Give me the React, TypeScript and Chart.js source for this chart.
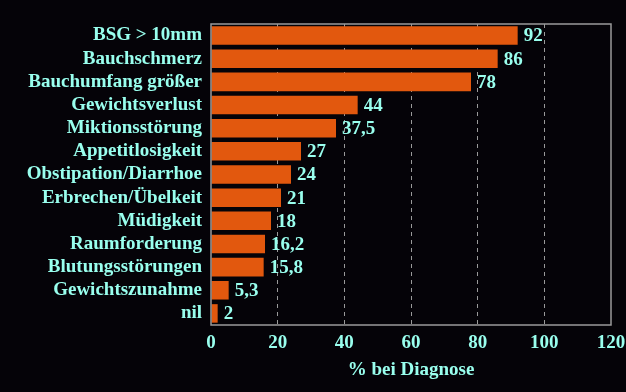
import React, { useEffect, useRef } from "react";
import { Chart, registerables } from "chart.js";

Chart.register(...registerables);

const categories = [
  "BSG > 10mm",
  "Bauchschmerz",
  "Bauchumfang größer",
  "Gewichtsverlust",
  "Miktionsstörung",
  "Appetitlosigkeit",
  "Obstipation/Diarrhoe",
  "Erbrechen/Übelkeit",
  "Müdigkeit",
  "Raumforderung",
  "Blutungsstörungen",
  "Gewichtszunahme",
  "nil",
];
const values = [92, 86, 78, 44, 37.5, 27, 24, 21, 18, 16.2, 15.8, 5.3, 2];
const xTicks = [0, 20, 40, 60, 80, 100, 120];
const axisTitle = "% bei Diagnose";

const TEXT = "#99FFEE";
const BAR = "#E2580E";
const BG = "#050308";
const GRID = "#9a9a9a";
const FONT = "'Liberation Serif', 'Times New Roman', serif";

export default function App() {
  const ref = useRef<HTMLCanvasElement | null>(null);
  useEffect(() => {
    document.body.style.margin = "0";
    document.body.style.background = BG;
    const canvas = ref.current!;
    const valueLabels = {
      id: "valueLabels",
      afterDatasetsDraw(chart: any) {
        const ctx = chart.ctx;
        const meta = chart.getDatasetMeta(0);
        ctx.save();
        ctx.fillStyle = TEXT;
        ctx.font = `bold 19px ${FONT}`;
        ctx.textBaseline = "middle";
        ctx.textAlign = "left";
        meta.data.forEach((el: any, i: number) => {
          const txt = String(values[i]).replace(".", ",");
          ctx.fillText(txt, el.x + 6, el.y + 1);
        });
        ctx.restore();
      },
    };
    const frame = {
      id: "frame",
      beforeDraw(chart: any) {
        const ctx = chart.ctx;
        ctx.save();
        ctx.fillStyle = BG;
        ctx.fillRect(0, 0, chart.width, chart.height);
        ctx.restore();
      },
      afterDraw(chart: any) {
        const { ctx, chartArea: a } = chart;
        ctx.save();
        ctx.strokeStyle = GRID;
        ctx.lineWidth = 1.5;
        ctx.strokeRect(a.left, a.top, a.right - a.left, a.bottom - a.top);
        ctx.restore();
      },
    };
    const chart = new Chart(canvas, {
      type: "bar",
      data: {
        labels: categories,
        datasets: [
          {
            data: values,
            backgroundColor: BAR,
            borderWidth: 0,
            barPercentage: 0.8,
            categoryPercentage: 1,
          },
        ],
      },
      options: {
        indexAxis: "y",
        responsive: false,
        animation: false,
        layout: { padding: { top: 24, right: 15, left: 0, bottom: 0 } },
        plugins: { legend: { display: false }, tooltip: { enabled: false } },
        scales: {
          x: {
            min: 0,
            max: 120,
            afterBuildTicks: (s: any) => {
              s.ticks = xTicks.map((v) => ({ value: v }));
            },
            afterFit: (s: any) => {
              s.height = 67;
              s.paddingRight = 0;
              s.paddingLeft = 0;
            },
            ticks: {
              color: TEXT,
              font: { family: FONT, size: 19, weight: "bold" },
              padding: 7,
              maxRotation: 0,
            },
            grid: {
              color: (c: any) =>
                c.tick && (c.tick.value === 0 || c.tick.value === 120) ? "rgba(0,0,0,0)" : GRID,
              drawTicks: false,
              lineWidth: 1,
            },
            border: { display: false, dash: [4, 4] },
            title: {
              display: true,
              text: axisTitle,
              color: TEXT,
              font: { family: FONT, size: 19, weight: "bold" },
              padding: { top: 4, bottom: 11 },
            },
          },
          y: {
            afterFit: (s: any) => {
              s.width = 211;
            },
            ticks: {
              color: TEXT,
              font: { family: FONT, size: 19, weight: "bold" },
              padding: 9,
              autoSkip: false,
            },
            grid: { display: false, drawTicks: false },
            border: { display: false },
          },
        },
      } as any,
      plugins: [frame, valueLabels],
    });
    return () => chart.destroy();
  }, []);
  return (
    <div style={{ width: 626, height: 392, background: BG }}>
      <canvas ref={ref} width={626} height={392} style={{ display: "block" }} />
    </div>
  );
}
